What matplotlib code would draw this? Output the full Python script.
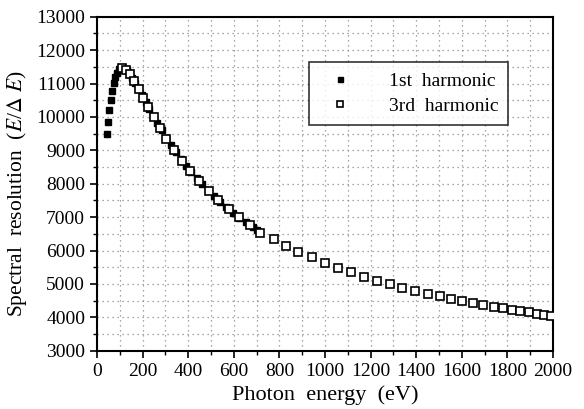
import numpy as np
import matplotlib
matplotlib.use("Agg")
import matplotlib.pyplot as plt
from matplotlib.ticker import MultipleLocator

plt.rcParams["font.family"] = ["Liberation Serif", "DejaVu Serif"]
plt.rcParams["mathtext.fontset"] = "stix"

# 1st harmonic (filled squares)
firstEnergy = [44, 48, 54, 60, 66, 73, 80, 88, 98, 108, 118, 130, 142, 155, 168,
               182, 197, 213, 230, 247, 265, 284, 304, 324, 345, 367, 390, 413,
               437, 462, 487, 513, 540, 567, 595, 624, 653, 683, 700]
firstResolution = [9490, 9856, 10207, 10506, 10784, 11024, 11190, 11330, 11430,
                   11470, 11450, 11400, 11310, 11170, 11020, 10845, 10660, 10460,
                   10250, 10040, 9830, 9600, 9380, 9170, 8960, 8750, 8525, 8340,
                   8165, 7990, 7810, 7640, 7465, 7295, 7135, 6980, 6840, 6700, 6620]

# 3rd harmonic (open squares)
thirdEnergy = [112, 129, 146, 164, 183, 204, 224, 252, 277, 305, 340, 373, 409,
               449, 490, 533, 577, 621, 669, 717, 775, 830, 882, 943, 998, 1055,
               1114, 1170, 1228, 1283, 1339, 1396, 1450, 1503, 1553, 1602, 1649,
               1693, 1740, 1779, 1818, 1857, 1895, 1930, 1962, 1993]
thirdResolution = [11455, 11404, 11275, 11075, 10835, 10575, 10300, 9985, 9670,
                   9350, 9010, 8690, 8370, 8081, 7790, 7512, 7234, 6995, 6765,
                   6535, 6335, 6135, 5946, 5796, 5625, 5485, 5347, 5216, 5096,
                   4997, 4886, 4796, 4707, 4629, 4557, 4488, 4428, 4359, 4308,
                   4269, 4228, 4189, 4150, 4108, 4069, 4039]

fig = plt.figure(figsize=(5.84, 4.09), dpi=100)
ax = fig.add_axes([0.166, 0.1425, 0.781, 0.8165])

ax.plot(firstEnergy, firstResolution, linestyle="none", marker="s",
        markersize=4.5, color="black", label="1st  harmonic", zorder=3)
ax.plot(thirdEnergy, thirdResolution, linestyle="none", marker="s",
        markersize=6, markerfacecolor="white", markeredgecolor="black",
        markeredgewidth=1.2, label="3rd  harmonic", zorder=4)

ax.set_xlim(0, 2000)
ax.set_ylim(3000, 13000)
ax.xaxis.set_major_locator(MultipleLocator(200))
ax.xaxis.set_minor_locator(MultipleLocator(100))
ax.yaxis.set_major_locator(MultipleLocator(1000))
ax.yaxis.set_minor_locator(MultipleLocator(500))

ax.grid(True, which="both", linestyle=(0, (1, 3)), color="#8a8a8a", linewidth=0.9)
ax.set_axisbelow(True)

ax.tick_params(which="major", direction="out", length=5, width=1.2,
               labelsize=14, colors="black")
ax.tick_params(which="minor", direction="out", length=3, width=1)
for side in ax.spines.values():
    side.set_linewidth(1.5)

ax.set_xlabel("Photon  energy  (eV)", fontsize=16, labelpad=4)
ax.set_ylabel(r"Spectral  resolution  ($E$/$\Delta$ $E$)", fontsize=15.5)
ax.yaxis.set_label_coords(-0.15, 0.47)

legend = ax.legend(loc="upper right", bbox_to_anchor=(0.901, 0.864),
                   fontsize=14, frameon=True, fancybox=False, edgecolor="black",
                   handlelength=2.2, handletextpad=1.4, borderpad=0.5,
                   labelspacing=0.4, borderaxespad=0, markerscale=0.8)
legend.get_frame().set_linewidth(1.2)

fig.savefig("out.png", dpi=100)
